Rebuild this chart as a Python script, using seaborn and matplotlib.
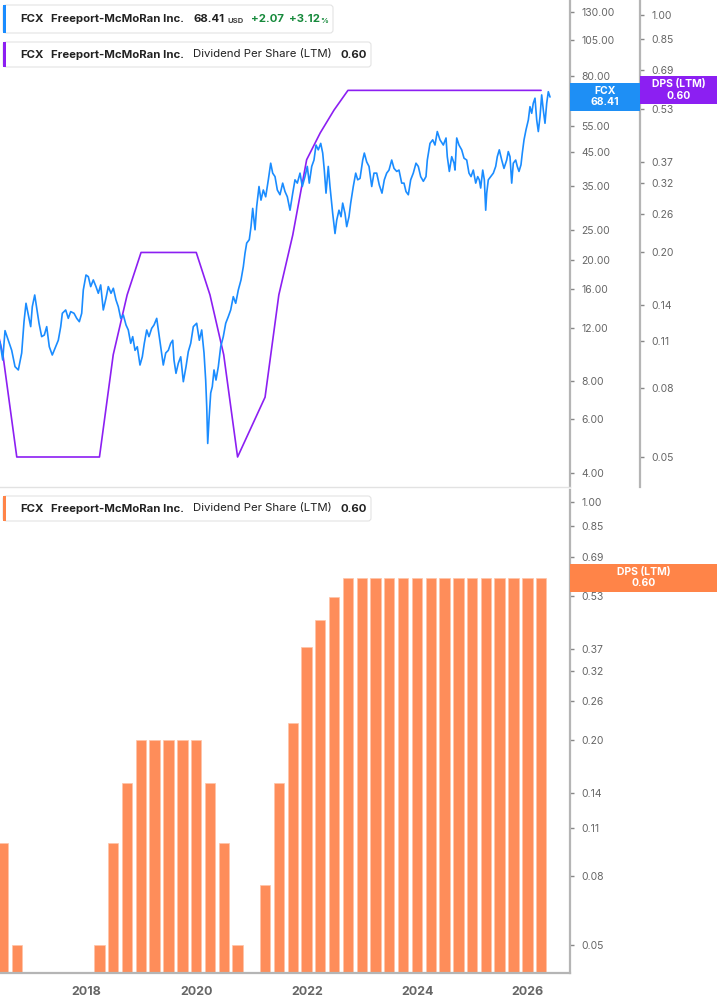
import numpy as np
import pandas as pd
import matplotlib
matplotlib.use("Agg")
import matplotlib.pyplot as plt
import seaborn as sns
from matplotlib.patches import FancyBboxPatch, Rectangle
from matplotlib.transforms import IdentityTransform
from matplotlib.ticker import NullLocator

# ---------------- data ----------------
price_t = [
    2016.442, 2016.491, 2016.533, 2016.592, 2016.654, 2016.714, 2016.774, 2016.835, 2016.877, 2016.913,
    2016.955, 2016.998, 2017.027, 2017.071, 2017.107, 2017.149, 2017.197, 2017.245, 2017.288, 2017.335,
    2017.389, 2017.438, 2017.498, 2017.542, 2017.571, 2017.632, 2017.679, 2017.723, 2017.783, 2017.832,
    2017.879, 2017.922, 2017.951, 2018.000, 2018.042, 2018.085, 2018.132, 2018.181, 2018.223, 2018.266,
    2018.313, 2018.362, 2018.404, 2018.453, 2018.495, 2018.543, 2018.585, 2018.629, 2018.676, 2018.725,
    2018.766, 2018.810, 2018.846, 2018.888, 2018.929, 2018.978, 2019.020, 2019.056, 2019.100, 2019.141,
    2019.190, 2019.232, 2019.281, 2019.328, 2019.371, 2019.400, 2019.444, 2019.491, 2019.534, 2019.571,
    2019.594, 2019.630, 2019.672, 2019.716, 2019.763, 2019.812, 2019.853, 2019.897, 2019.944, 2020.005,
    2020.053, 2020.096, 2020.138, 2020.168, 2020.187, 2020.205, 2020.228, 2020.259, 2020.288, 2020.319,
    2020.355, 2020.397, 2020.440, 2020.487, 2020.531, 2020.578, 2020.621, 2020.668, 2020.712, 2020.759,
    2020.808, 2020.850, 2020.880, 2020.911, 2020.958, 2020.989, 2021.020, 2021.062, 2021.092, 2021.134,
    2021.170, 2021.212, 2021.255, 2021.303, 2021.346, 2021.382, 2021.424, 2021.466, 2021.514, 2021.563,
    2021.605, 2021.647, 2021.696, 2021.745, 2021.786, 2021.828, 2021.877, 2021.918, 2021.967, 2022.009,
    2022.045, 2022.089, 2022.130, 2022.167, 2022.208, 2022.252, 2022.288, 2022.317, 2022.348, 2022.389,
    2022.420, 2022.469, 2022.511, 2022.542, 2022.583, 2022.620, 2022.650, 2022.692, 2022.723, 2022.764,
    2022.795, 2022.842, 2022.886, 2022.922, 2022.964, 2023.013, 2023.042, 2023.085, 2023.127, 2023.176,
    2023.217, 2023.266, 2023.313, 2023.362, 2023.404, 2023.447, 2023.489, 2023.538, 2023.580, 2023.629,
    2023.670, 2023.719, 2023.761, 2023.797, 2023.839, 2023.882, 2023.929, 2023.978, 2024.020, 2024.063,
    2024.111, 2024.159, 2024.183, 2024.232, 2024.281, 2024.322, 2024.364, 2024.413, 2024.473, 2024.522,
    2024.545, 2024.582, 2024.625, 2024.667, 2024.685, 2024.716, 2024.757, 2024.806, 2024.848, 2024.897,
    2024.938, 2024.975, 2025.016, 2025.060, 2025.096, 2025.125, 2025.150, 2025.187, 2025.216, 2025.241,
    2025.259, 2025.288, 2025.332, 2025.379, 2025.422, 2025.451, 2025.487, 2025.531, 2025.572, 2025.621,
    2025.650, 2025.681, 2025.712, 2025.741, 2025.784, 2025.813, 2025.844, 2025.880, 2025.904, 2025.935,
    2025.971, 2026.013, 2026.043, 2026.074, 2026.103, 2026.134, 2026.165, 2026.194, 2026.225, 2026.255,
    2026.284, 2026.315, 2026.346, 2026.375, 2026.406,
]
price_v = [
    10.76, 9.39, 11.72, 10.90, 10.10, 8.93, 8.71, 9.90, 12.54, 14.41,
    13.19, 12.08, 14.04, 15.34, 13.87, 12.39, 11.20, 11.34, 12.08, 10.38,
    9.75, 10.26, 10.90, 12.08, 13.36, 13.70, 12.86, 13.53, 13.36, 12.86,
    12.54, 13.36, 15.93, 17.84, 17.62, 16.34, 17.19, 16.34, 15.54, 16.55,
    13.70, 14.97, 16.34, 15.54, 16.14, 14.78, 14.04, 12.86, 13.19, 12.23,
    11.78, 10.65, 11.20, 10.10, 10.38, 9.04, 9.62, 10.65, 11.78, 11.20,
    11.93, 12.23, 12.86, 11.20, 9.90, 9.04, 9.90, 10.10, 10.65, 10.90,
    9.39, 8.49, 9.16, 9.62, 7.97, 8.93, 10.00, 10.65, 12.08, 12.39,
    10.90, 11.78, 9.90, 8.07, 6.60, 5.00, 5.97, 7.32, 7.68, 8.71,
    8.07, 8.93, 10.38, 11.20, 12.39, 13.03, 13.70, 15.15, 14.41, 15.93,
    17.19, 19.00, 21.00, 22.70, 23.30, 25.70, 29.50, 25.10, 29.90, 34.80,
    31.40, 33.90, 32.20, 36.60, 41.50, 38.50, 37.50, 33.90, 32.70, 35.70,
    33.50, 32.20, 29.10, 33.10, 36.60, 35.70, 38.50, 34.80, 37.50, 40.50,
    35.70, 40.50, 42.50, 47.60, 45.90, 48.20, 44.80, 39.40, 33.10, 40.50,
    34.80, 28.40, 24.40, 27.00, 29.10, 27.70, 30.70, 28.40, 25.70, 27.70,
    30.70, 34.80, 38.50, 36.60, 37.00, 42.50, 44.80, 41.90, 40.50, 34.80,
    38.50, 38.50, 35.20, 33.10, 36.60, 38.50, 39.40, 42.50, 39.90, 39.00,
    39.40, 35.70, 35.70, 33.50, 32.70, 36.60, 38.50, 41.50, 40.50, 37.50,
    36.20, 37.50, 42.50, 48.20, 49.50, 47.60, 52.70, 49.50, 47.60, 50.20,
    43.60, 39.00, 43.60, 41.50, 39.40, 50.20, 47.60, 45.90, 43.10, 42.50,
    38.50, 37.50, 39.40, 35.70, 37.50, 36.60, 34.40, 39.40, 36.60, 29.10,
    33.10, 36.60, 37.50, 38.50, 40.50, 43.60, 45.90, 42.50, 39.90, 42.50,
    45.30, 43.60, 35.70, 41.50, 42.50, 40.50, 39.00, 41.00, 44.80, 49.50,
    53.40, 57.50, 63.60, 60.50, 65.30, 67.80, 57.50, 52.70, 59.00, 69.50,
    62.10, 56.10, 65.30, 71.20, 68.41,
]

dps_quarters = [
    "2016Q1", "2016Q2", "2016Q3", "2016Q4",
    "2017Q1", "2017Q2", "2017Q3", "2017Q4",
    "2018Q1", "2018Q2", "2018Q3", "2018Q4",
    "2019Q1", "2019Q2", "2019Q3", "2019Q4",
    "2020Q1", "2020Q2", "2020Q3", "2020Q4",
    "2021Q1", "2021Q2", "2021Q3", "2021Q4",
    "2022Q1", "2022Q2", "2022Q3", "2022Q4",
    "2023Q1", "2023Q2", "2023Q3", "2023Q4",
    "2024Q1", "2024Q2", "2024Q3", "2024Q4",
    "2025Q1", "2025Q2", "2025Q3", "2025Q4",
    "2026Q1",
]
dps_values = [
    0.15, 0.10, 0.05, 0.0,
    0.0, 0.0, 0.0, 0.0,
    0.05, 0.10, 0.15, 0.20,
    0.20, 0.20, 0.20, 0.20,
    0.15, 0.10, 0.05, 0.0,
    0.075, 0.15, 0.225, 0.375,
    0.45, 0.525, 0.60, 0.60,
    0.60, 0.60, 0.60, 0.60,
    0.60, 0.60, 0.60, 0.60,
    0.60, 0.60, 0.60, 0.60,
    0.60,
]

price_ticks = [4, 6, 8, 12, 16, 20, 25, 35, 45, 55, 80, 105, 130]
dps_ticks = [0.05, 0.08, 0.11, 0.14, 0.20, 0.26, 0.32, 0.37, 0.53, 0.69, 0.85, 1.00]
year_ticks = [2018, 2020, 2022, 2024, 2026]

last_price = 68.41
last_dps = 0.60

# ---------------- style ----------------
BLUE = "#1a8cff"
PURPLE = "#8c1ff2"
ORANGE = "#fe8d5a"
ORANGE_BOX = "#ff8448"
GREEN = "#178a3c"
SPINE = "#b5b5b5"
TICKC = "#666666"
TXT = "#222222"

sns.set_theme(style="white")
plt.rcParams['font.family'] = ['Inter', 'DejaVu Sans']

W, H = 717, 1005
fig = plt.figure(figsize=(W / 100, H / 100), dpi=100)
fig.patch.set_facecolor("white")


def fx(px):
    return px / W


def fy(py):
    return 1 - py / H


def qdec(q):
    p = pd.Period(q, freq="Q")
    end = p.end_time.normalize()
    start = pd.Timestamp(year=end.year, month=1, day=1)
    days = 366 if end.is_leap_year else 365
    return end.year + (end - start).days / days


price_df = pd.DataFrame({"t": price_t, "price": price_v})
dps_df = pd.DataFrame({"t": [qdec(q) for q in dps_quarters], "dps": dps_values})
dps_pos = dps_df[dps_df["dps"] > 0]

XMIN, XMAX = 2016.442, 2026.768

# ---------------- top panel ----------------
ax = fig.add_axes([0, fy(487), fx(570), 487 / H])
ax2 = ax.twinx()
ax.set_yscale("log")
ax2.set_yscale("log")

sns.lineplot(data=dps_pos, x="t", y="dps", ax=ax2, color=PURPLE, linewidth=1.2, estimator=None)
sns.lineplot(data=price_df, x="t", y="price", ax=ax, color=BLUE, linewidth=1.2, estimator=None)

ax.set_zorder(ax2.get_zorder() + 1)
ax.patch.set_visible(False)

ax.set_xlim(XMIN, XMAX)
ax.set_ylim(3.599, 142.3)
ax2.set_ylim(0.0408, 1.107)

for a in (ax, ax2):
    a.set_xlabel("")
    a.set_ylabel("")
    a.xaxis.set_major_locator(NullLocator())
    a.xaxis.set_minor_locator(NullLocator())
    a.yaxis.set_minor_locator(NullLocator())

ax.yaxis.tick_right()
ax.set_yticks(price_ticks)
ax.set_yticklabels([f"{v:.2f}" for v in price_ticks])
ax2.set_yticks(dps_ticks)
ax2.set_yticklabels([f"{v:.2f}" for v in dps_ticks])
ax.yaxis.set_minor_locator(NullLocator())
ax2.yaxis.set_minor_locator(NullLocator())

for a in (ax, ax2):
    a.tick_params(axis="y", which="major", direction="out", length=3, width=1,
                  color="#888888", pad=5, labelsize=7.5, labelcolor=TICKC,
                  left=False, labelleft=False, right=True, labelright=True)

for s in ["left", "top"]:
    ax.spines[s].set_visible(False)
ax.spines["right"].set_color(SPINE)
ax.spines["right"].set_linewidth(1.6)
ax.spines["bottom"].set_color("#e2e2e2")
ax.spines["bottom"].set_linewidth(1.0)
for s in ["left", "top", "bottom"]:
    ax2.spines[s].set_visible(False)
ax2.spines["right"].set_position(("axes", 640 / 570))
ax2.spines["right"].set_color(SPINE)
ax2.spines["right"].set_linewidth(1.6)

# ---------------- bottom panel ----------------
axb = fig.add_axes([0, fy(973), fx(570), (973 - 490) / H])
axb.set_yscale("log")
sns.barplot(data=dps_df, x="t", y="dps", ax=axb, native_scale=True, width=0.76,
            color=ORANGE, saturation=1, edgecolor="#ffc4a8", linewidth=0.5, errorbar=None)
axb.set_xlim(XMIN, XMAX)
axb.set_ylim(0.0414, 1.0845)
axb.set_xlabel("")
axb.set_ylabel("")
axb.yaxis.tick_right()
axb.set_yticks(dps_ticks)
axb.set_yticklabels([f"{v:.2f}" for v in dps_ticks])
axb.yaxis.set_minor_locator(NullLocator())
axb.set_xticks(year_ticks)
axb.set_xticklabels([str(y) for y in year_ticks])
axb.xaxis.set_minor_locator(NullLocator())
axb.tick_params(axis="y", which="major", direction="out", length=3, width=1,
                color="#888888", pad=5, labelsize=7.5, labelcolor=TICKC,
                left=False, labelleft=False, right=True, labelright=True)
axb.tick_params(axis="x", which="major", direction="out", length=4, width=1,
                color="#888888", pad=5, labelsize=9, labelcolor=TICKC)
for lab in axb.get_xticklabels():
    lab.set_fontweight("bold")
for s in ["left", "top"]:
    axb.spines[s].set_visible(False)
for s in ["right", "bottom"]:
    axb.spines[s].set_color(SPINE)
    axb.spines[s].set_linewidth(1.6)

# ---------------- helpers for pixel-placed decorations ----------------
idt = IdentityTransform()


def box_px(x0, y0, x1, y1, fc, ec="none", lw=0.0, round_px=0.0, z=10):
    if round_px > 0:
        p = FancyBboxPatch((x0, H - y1), x1 - x0, y1 - y0,
                           boxstyle=f"round,pad=0,rounding_size={round_px}",
                           transform=idt, facecolor=fc, edgecolor=ec, linewidth=lw, zorder=z)
    else:
        p = Rectangle((x0, H - y1), x1 - x0, y1 - y0, transform=idt,
                      facecolor=fc, edgecolor=ec, linewidth=lw, zorder=z)
    fig.add_artist(p)


def text_px(x, y, s, **kw):
    fig.text(fx(x), fy(y), s, va="center", ha=kw.pop("ha", "left"), zorder=20, **kw)


def legend_box(y0, y1, color, right):
    box_px(3, y0, right, y1, "white", ec="#e3e3e3", lw=0.8, round_px=3)
    box_px(3, y0, 6, y1, color, z=11)


# legend 1
legend_box(5, 33, BLUE, 333)
yc = 19.5
text_px(20.5, yc, "FCX", fontsize=8.2, fontweight="bold", color=TXT)
text_px(51.5, yc, "Freeport-McMoRan Inc.", fontsize=8.2, fontweight="bold", color=TXT)
text_px(193, yc, f"{last_price:.2f}", fontsize=8.2, fontweight="bold", color=TXT)
text_px(227.5, yc + 1.5, "USD", fontsize=5.5, fontweight="bold", color="#444444")
text_px(251.5, yc, "+2.07", fontsize=8.2, fontweight="bold", color=GREEN)
text_px(288.5, yc, "+3.12", fontsize=8.2, fontweight="bold", color=GREEN)
text_px(320, yc + 1.5, "%", fontsize=5.5, fontweight="bold", color=GREEN)

# legend 2
legend_box(42, 67, PURPLE, 371)
yc = 54.5
text_px(20.5, yc, "FCX", fontsize=8.2, fontweight="bold", color=TXT)
text_px(51.5, yc, "Freeport-McMoRan Inc.", fontsize=8.2, fontweight="bold", color=TXT)
text_px(193, yc, "Dividend Per Share (LTM)", fontsize=8.2, color=TXT)
text_px(340.5, yc, f"{last_dps:.2f}", fontsize=8.2, fontweight="bold", color=TXT)

# legend 3
legend_box(496, 521, ORANGE_BOX, 371)
yc = 508.5
text_px(20.5, yc, "FCX", fontsize=8.2, fontweight="bold", color=TXT)
text_px(51.5, yc, "Freeport-McMoRan Inc.", fontsize=8.2, fontweight="bold", color=TXT)
text_px(193, yc, "Dividend Per Share (LTM)", fontsize=8.2, color=TXT)
text_px(340.5, yc, f"{last_dps:.2f}", fontsize=8.2, fontweight="bold", color=TXT)

# right-hand value labels (positioned by the data scales)
fig.canvas.draw()
y_price = H - ax.transData.transform((XMAX, last_price))[1]
y_dps_top = H - ax2.transData.transform((XMAX, last_dps))[1]
y_dps_bot = H - axb.transData.transform((XMAX, last_dps))[1]

box_px(570, y_price - 14, 640, y_price + 14, "#1e8ff5")
text_px(605, y_price - 6, "FCX", ha="center", fontsize=7.5, fontweight="bold", color="white")
text_px(605, y_price + 5.5, f"{last_price:.2f}", ha="center", fontsize=7.5, fontweight="bold", color="white")

box_px(640, y_dps_top - 14, 717, y_dps_top + 14, PURPLE)
text_px(678.5, y_dps_top - 6, "DPS (LTM)", ha="center", fontsize=7.5, fontweight="bold", color="white")
text_px(678.5, y_dps_top + 5.5, f"{last_dps:.2f}", ha="center", fontsize=7.5, fontweight="bold", color="white")

box_px(570, y_dps_bot - 14, 717, y_dps_bot + 14, ORANGE_BOX)
text_px(643.5, y_dps_bot - 6, "DPS (LTM)", ha="center", fontsize=7.5, fontweight="bold", color="white")
text_px(643.5, y_dps_bot + 5.5, f"{last_dps:.2f}", ha="center", fontsize=7.5, fontweight="bold", color="white")

fig.savefig("out.png", dpi=100, facecolor="white")
